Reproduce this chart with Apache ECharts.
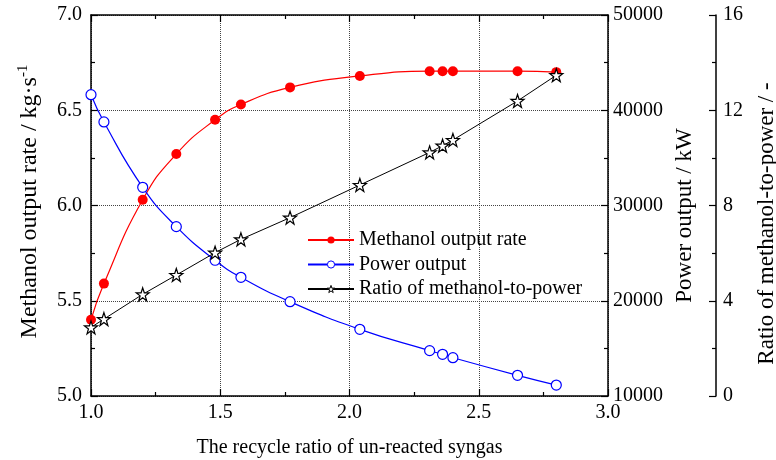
<!DOCTYPE html>
<html>
<head>
<meta charset="utf-8">
<script src="https://cdn.jsdelivr.net/npm/echarts@6/dist/echarts.min.js"></script>
<style>html,body{margin:0;padding:0;background:#fff;overflow:hidden;width:776px;height:460px}#c{width:776px;height:460px}</style>
</head>
<body>
<div id="c"></div>
<script>
const recycleRatio = [1.00, 1.05, 1.20, 1.33, 1.48, 1.58, 1.77, 2.04, 2.31, 2.36, 2.40, 2.65, 2.80];
const methanolRate = [5.40, 5.59, 6.03, 6.27, 6.45, 6.53, 6.62, 6.68, 6.705, 6.705, 6.705, 6.705, 6.70];
const powerOutput = [41630, 38770, 31910, 27780, 24250, 22460, 19900, 17000, 14760, 14380, 14020, 12170, 11150];
const methanolToPower = [2.88, 3.23, 4.27, 5.08, 6.02, 6.58, 7.49, 8.86, 10.23, 10.51, 10.75, 12.39, 13.47];
const seriesNames = ['Methanol output rate', 'Power output', 'Ratio of methanol-to-power'];

const FONT = 'Liberation Serif';
const chart = echarts.init(document.getElementById('c'), null, {renderer: 'canvas', width: 776, height: 460});
const pair = (xs, ys) => xs.map((x, i) => [x, ys[i]]);
const axisLine = {show: true, lineStyle: {color: '#000', width: 1.5}};
const tick = {show: true, inside: true, length: 7, lineStyle: {color: '#000', width: 1.2}};
const minor = {show: true, splitNumber: 2, length: 4, lineStyle: {color: '#000', width: 1.2}};
const lbl = {color: '#000', fontFamily: FONT, fontSize: 20};
const nameStyle = (size) => ({color: '#000', fontFamily: FONT, fontSize: size});
const starPath = 'path://M50,0 L61.8,35.4 L98.1,35.4 L68.9,57.3 L79.4,92.7 L50,71 L20.6,92.7 L31.1,57.3 L1.9,35.4 L38.2,35.4 Z';

chart.setOption({
  animation: false,
  backgroundColor: '#fff',
  grid: {left: 91, right: 168, top: 15, bottom: 64, containLabel: false, outerBoundsMode: 'none'},
  legend: {
    orient: 'vertical', left: 302, top: 225,
    itemWidth: 46, itemHeight: 9, itemGap: 4.5,
    textStyle: {color: '#000', fontFamily: FONT, fontSize: 20},
    data: [
      {name: seriesNames[0], itemStyle: {color: '#ff0000', borderWidth: 0}},
      {name: seriesNames[1], itemStyle: {color: '#fff', borderColor: '#0000ff', borderWidth: 1}},
      {name: seriesNames[2], itemStyle: {color: '#fff', borderColor: '#000', borderWidth: 1}}
    ]
  },
  xAxis: [{
    type: 'value', min: 1, max: 3, interval: 0.5, position: 'bottom',
    name: 'The recycle ratio of un-reacted syngas', nameLocation: 'middle', nameGap: 42,
    nameTextStyle: nameStyle(20),
    axisLine: axisLine, axisTick: tick, minorTick: minor,
    axisLabel: Object.assign({margin: 7, formatter: v => v.toFixed(1)}, lbl),
    splitLine: {show: true, lineStyle: {color: '#444', type: 'dotted', width: 1}}
  }, {
    type: 'value', min: 1, max: 3, interval: 0.5, position: 'top',
    axisLine: axisLine, axisTick: tick, minorTick: minor,
    axisLabel: {show: false}, splitLine: {show: false}
  }],
  yAxis: [{
    type: 'value', min: 5, max: 7, interval: 0.5, position: 'left',
    name: 'Methanol output rate / kg·s{sup|-1}', nameLocation: 'middle', nameGap: 47, nameRotate: 90,
    nameTextStyle: Object.assign(nameStyle(24), {
      padding: [0, 0, 0, 8],
      rich: {sup: {fontFamily: FONT, fontSize: 15, verticalAlign: 'top', lineHeight: 28, padding: [0, 0, 9, 0]}}
    }),
    axisLine: axisLine, axisTick: tick, minorTick: minor,
    axisLabel: Object.assign({margin: 9, formatter: v => v.toFixed(1)}, lbl),
    splitLine: {show: true, lineStyle: {color: '#444', type: 'dotted', width: 1}}
  }, {
    type: 'value', min: 10000, max: 50000, interval: 10000, position: 'right',
    name: 'Power output / kW', nameLocation: 'middle', nameGap: 65, nameRotate: 90,
    nameTextStyle: Object.assign(nameStyle(23), {padding: [0, 20, 0, 0]}),
    axisLine: axisLine, axisTick: tick, minorTick: minor,
    axisLabel: Object.assign({margin: 5, formatter: v => String(v)}, lbl),
    splitLine: {show: false}
  }, {
    type: 'value', min: 0, max: 16, interval: 4, position: 'right', offset: 108,
    name: 'Ratio of methanol-to-power / -', nameLocation: 'middle', nameGap: 39, nameRotate: 90,
    nameTextStyle: Object.assign(nameStyle(23), {padding: [0, 36, 0, 0]}),
    axisLine: axisLine, axisTick: tick, minorTick: minor,
    axisLabel: Object.assign({margin: 7}, lbl),
    splitLine: {show: false}
  }],
  series: [{
    name: seriesNames[0], type: 'line', xAxisIndex: 0, yAxisIndex: 0,
    data: pair(recycleRatio, methanolRate), smooth: 0.5,
    symbol: 'circle', symbolSize: 10,
    lineStyle: {color: '#ff0000', width: 1.2},
    itemStyle: {color: '#ff0000', borderColor: '#ff0000', borderWidth: 0}
  }, {
    name: seriesNames[1], type: 'line', xAxisIndex: 0, yAxisIndex: 1,
    data: pair(recycleRatio, powerOutput), smooth: 0.5,
    symbol: 'circle', symbolSize: 10,
    lineStyle: {color: '#0000ff', width: 1.2},
    itemStyle: {color: '#fff', borderColor: '#0000ff', borderWidth: 1.2}
  }, {
    name: seriesNames[2], type: 'line', xAxisIndex: 0, yAxisIndex: 2,
    data: pair(recycleRatio, methanolToPower), smooth: false,
    symbol: starPath, symbolSize: 13,
    lineStyle: {color: '#000', width: 1},
    itemStyle: {color: '#fff', borderColor: '#000', borderWidth: 1.2}
  }]
});
</script>
</body>
</html>
